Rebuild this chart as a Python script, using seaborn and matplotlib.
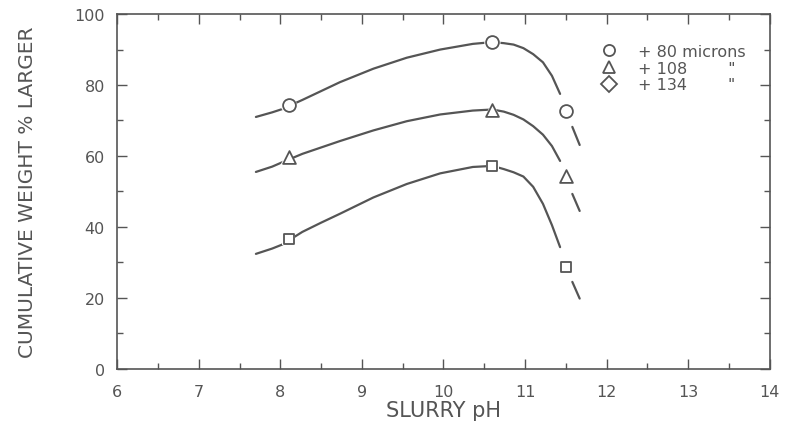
import numpy as np
import pandas as pd
import matplotlib.pyplot as plt
import seaborn as sns
from matplotlib.lines import Line2D
from matplotlib.ticker import MultipleLocator

sns.set_theme(style="ticks")
plt.rcParams['font.family'] = ['DejaVu Sans']

# measured points (slurry pH vs cumulative weight % larger)
ph_points = [8.1, 10.6, 11.5]
wt_80 = [74.5, 92.0, 72.7]
wt_108 = [59.7, 73.1, 54.4]
wt_134 = [36.7, 57.2, 28.6]

# hand drawn curves
curve_ph = [7.70, 7.90, 8.02, 8.27, 8.50, 8.73, 9.14, 9.55, 9.96, 10.36,
            10.60, 10.74, 10.86, 10.98, 11.10, 11.22, 11.33, 11.43]
curve_80 = [71.0, 72.3, 73.2, 75.8, 78.3, 80.8, 84.6, 87.7, 90.0, 91.6,
            92.1, 91.8, 91.4, 90.4, 88.7, 86.4, 82.6, 77.5]
curve_108 = [55.5, 57.0, 58.2, 60.6, 62.4, 64.2, 67.2, 69.8, 71.7, 72.8,
             73.1, 72.5, 71.6, 70.3, 68.4, 66.0, 62.8, 58.6]
curve_134 = [32.4, 33.9, 35.0, 38.6, 41.2, 43.7, 48.3, 52.1, 55.1, 56.9,
             57.2, 56.3, 55.4, 54.2, 51.3, 46.5, 40.5, 34.3]

# short extrapolated pieces past the last point
tail_ph = [11.58, 11.67]
tail_80 = [68.2, 63.1]
tail_108 = [49.3, 44.5]
tail_134 = [24.5, 19.8]

series = ['+80', '+108', '+134']
legend_labels = ['+ 80 microns', '+ 108        "', '+ 134        "']
legend_markers = ['o', '^', 'D']
data_markers = ['o', '^', 's']
marker_sizes = [85, 85, 60]

gray = '#555555'
text_gray = '#555555'

curves = pd.concat([
    pd.DataFrame({'ph': curve_ph, 'wt': w, 'series': s})
    for w, s in zip([curve_80, curve_108, curve_134], series)
])
tails = pd.concat([
    pd.DataFrame({'ph': tail_ph, 'wt': w, 'series': s})
    for w, s in zip([tail_80, tail_108, tail_134], series)
])

fig = plt.figure(figsize=(7.87, 4.31), dpi=100)
ax = fig.add_axes([0.149, 0.142, 0.829, 0.823])

sns.lineplot(data=curves, x='ph', y='wt', units='series', estimator=None,
             sort=False, color=gray, linewidth=1.6, ax=ax, zorder=2)
sns.lineplot(data=tails, x='ph', y='wt', units='series', estimator=None,
             sort=False, color=gray, linewidth=1.6, ax=ax, zorder=2)

for w, m, sz in zip([wt_80, wt_108, wt_134], data_markers, marker_sizes):
    # white halo so the line breaks around each symbol
    sns.scatterplot(x=ph_points, y=w, marker=m, s=sz * 1.6, color='white',
                    edgecolor='none', ax=ax, zorder=3)
    sns.scatterplot(x=ph_points, y=w, marker=m, s=sz, facecolor='white',
                    edgecolor=gray, linewidth=1.3, ax=ax, zorder=4)

ax.set_xlim(6, 14)
ax.set_ylim(0, 100)
ax.xaxis.set_major_locator(MultipleLocator(1))
ax.xaxis.set_minor_locator(MultipleLocator(0.5))
ax.yaxis.set_major_locator(MultipleLocator(20))
ax.yaxis.set_minor_locator(MultipleLocator(10))
ax.tick_params(which='both', direction='in', top=True, right=True,
               color=gray, width=1.0)
ax.tick_params(which='major', length=7, labelsize=11.5, labelcolor=text_gray, pad=9)
ax.tick_params(axis='x', which='major', pad=11)
ax.tick_params(which='minor', length=4)
for sp in ax.spines.values():
    sp.set_color(gray)
    sp.set_linewidth(1.2)

ax.set_xlabel('SLURRY pH', fontsize=15, color=text_gray, labelpad=1)
ax.set_ylabel('CUMULATIVE WEIGHT % LARGER', fontsize=14.5, color=text_gray, labelpad=27)

handles = [Line2D([], [], linestyle='none', marker=m, markersize=8,
                  markerfacecolor='white', markeredgecolor=gray, markeredgewidth=1.3)
           for m in legend_markers]
leg = ax.legend(handles, legend_labels, loc='upper left',
                bbox_to_anchor=(0.754, 0.914), bbox_transform=fig.transFigure,
                frameon=False, fontsize=11.5, handlelength=1.0, handletextpad=1.3,
                labelspacing=0.1, borderpad=0)
for t in leg.get_texts():
    t.set_color(text_gray)

fig.savefig('out.png', dpi=100, facecolor='white')
